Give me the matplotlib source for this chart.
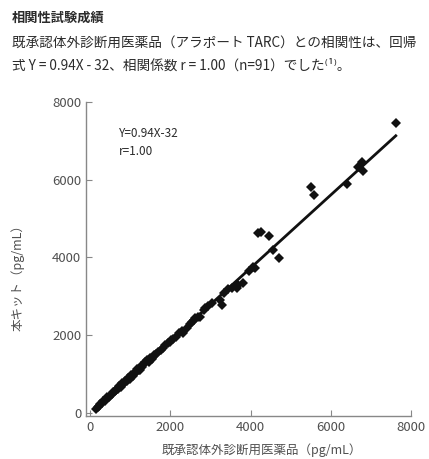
import matplotlib
matplotlib.use("Agg")
from matplotlib import pyplot as plt
import numpy as np

plt.rcParams['font.family'] = ['Noto Sans CJK JP', 'DejaVu Sans']

x_ref = [150, 190, 230, 260, 300, 330, 370, 400, 430, 470, 500, 540, 580, 610,
         650, 690, 720, 760, 800, 840, 870, 910, 950, 990, 1030, 1060, 1100,
         1140, 1180, 1220, 1260, 1300, 1340, 1380, 1420, 1460, 1500, 1540,
         1600, 1650, 1700, 1760, 1820, 1880, 1950, 2000, 2080, 2150, 2220,
         2300, 2320, 2410, 2480, 2550, 2620, 2690, 2740, 2850, 2950, 3050,
         3240, 3280, 3350, 3450, 3530, 3660, 3690, 3815, 3950, 4060, 4115,
         4190, 4255, 4450, 4570, 4720, 5510, 5590, 6400, 6680, 6775, 6810,
         7620, 1250, 1580, 2020, 2600, 2870, 880, 1120, 620]
y_kit = [110, 160, 190, 230, 260, 300, 320, 350, 400, 420, 450, 480, 530, 560,
         600, 620, 700, 680, 760, 780, 830, 820, 900, 880, 980, 950, 1040,
         1050, 1120, 1100, 1200, 1180, 1270, 1300, 1360, 1320, 1420, 1380,
         1480, 1530, 1560, 1620, 1680, 1740, 1790, 1830, 1900, 1950, 2050,
         2100, 2050, 2180, 2300, 2350, 2450, 2470, 2475, 2650, 2740, 2830,
         2900, 2780, 3080, 3200, 3210, 3210, 3290, 3340, 3650, 3760, 3730,
         4630, 4660, 4550, 4190, 3975, 5820, 5600, 5890, 6320, 6460, 6230,
         7460, 1110, 1450, 1880, 2400, 2700, 790, 1030, 560]

slope = 0.94
intercept = -32
line_x = [200, 7620]

x_ticks = [0, 2000, 4000, 6000, 8000]
y_ticks = [0, 2000, 4000, 6000, 8000]

text_col = '#2b2b2b'
tick_col = '#505050'
spine_col = '#888888'

fig = plt.figure(figsize=(4.29, 4.59), dpi=100)
ax = fig.add_axes([0.2005, 0.0943, 0.7576, 0.6835])

ax.plot(x_ref, y_kit, 'D', color='#111111', markersize=5.5, markeredgewidth=0)
lx = np.array(line_x)
ax.plot(lx, slope*lx + intercept, color='#111111', linewidth=2)

ax.set_xlim(-100, 8000)
ax.set_ylim(-70, 8000)
ax.set_xticks(x_ticks)
ax.set_yticks(y_ticks)
for s in ['top', 'right']:
    ax.spines[s].set_visible(False)
for s in ['left', 'bottom']:
    ax.spines[s].set_color(spine_col)
    ax.spines[s].set_linewidth(1.0)
ax.tick_params(direction='in', length=4, width=0.8, color=spine_col,
               labelcolor=tick_col, labelsize=9.5)

ax.text(720, 7200, 'Y=0.94X-32', fontsize=8.5, color=text_col, va='center')
ax.text(720, 6720, 'r=1.00', fontsize=8.5, color=text_col, va='center')

fig.text(12/429, 1 - 18/459, '相関性試験成績', fontsize=9.5, fontweight='bold',
         color=text_col, va='center')
fig.text(12/429, 1 - 43/459, '既承認体外診断用医薬品（アラポート TARC）との相関性は、回帰',
         fontsize=9.8, color=text_col, va='center')
fig.text(12/429, 1 - 66/459, '式 Y = 0.94X - 32、相関係数 r = 1.00（n=91）でした⁽¹⁾。',
         fontsize=9.8, color=text_col, va='center')

fig.text(18/429, 1 - 275/459, '本キット（pg/mL）', rotation=90, fontsize=9,
         color=tick_col, ha='center', va='center')
fig.text(262/429, 1 - 450/459, '既承認体外診断用医薬品（pg/mL）', fontsize=9,
         color=tick_col, ha='center', va='center')

fig.savefig('out.png', dpi=100)
